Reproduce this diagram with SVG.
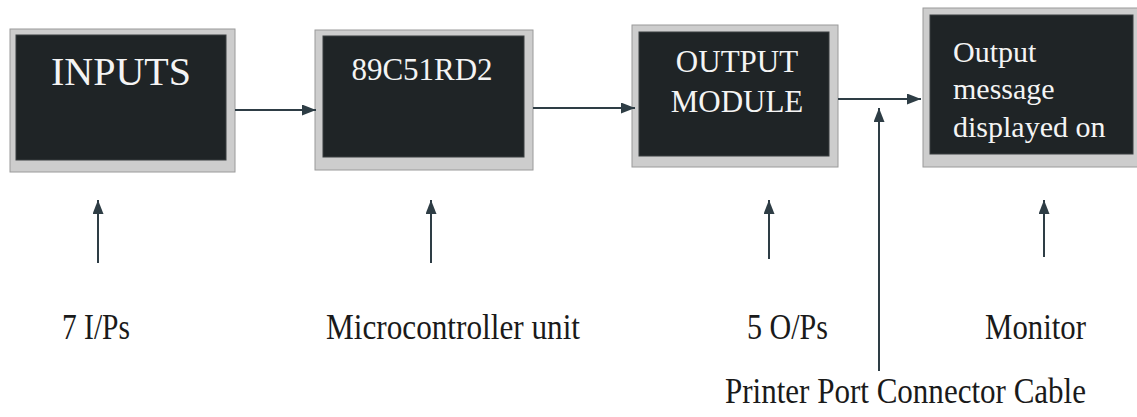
<svg xmlns="http://www.w3.org/2000/svg" width="1137" height="417" viewBox="0 0 1137 417">
<style>
.frame{fill:#cdcdcd;stroke:#9a9a9a;stroke-width:1}
.inner{fill:#1f2426;stroke:#3a3f41;stroke-width:1}
.bt{font-family:"Liberation Serif","Times New Roman",serif;fill:#f4f4f4}
.lbl{font-family:"Liberation Serif","Times New Roman",serif;fill:#1a1a1a;font-size:35px}
.conn{stroke:#2e3d45;stroke-width:2;fill:none;marker-end:url(#ah)}
</style>
<defs>
<marker id="ah" viewBox="0 0 14 11" refX="14" refY="5.5" markerWidth="14" markerHeight="11" markerUnits="userSpaceOnUse" orient="auto">
<path d="M0,0 L14,5.5 L0,11 Z" fill="#2e3d45"/>
</marker>
</defs>
<rect width="1137" height="417" fill="#ffffff"/>
<g id="node-inputs">
<rect class="frame" x="10" y="29" width="225" height="143"/>
<rect class="inner" x="16" y="35" width="210" height="125"/>
<text class="bt" x="121" y="85" font-size="40" text-anchor="middle">INPUTS</text>
</g>
<g id="node-mcu">
<rect class="frame" x="315" y="30" width="218" height="140"/>
<rect class="inner" x="323" y="36" width="201" height="121"/>
<text class="bt" x="422" y="80" font-size="31" text-anchor="middle">89C51RD2</text>
</g>
<g id="node-output">
<rect class="frame" x="632" y="25" width="206" height="142"/>
<rect class="inner" x="639" y="32" width="190" height="124"/>
<text class="bt" x="737" y="72" font-size="31" text-anchor="middle">OUTPUT</text>
<text class="bt" x="737" y="112" font-size="31" text-anchor="middle">MODULE</text>
</g>
<g id="node-display">
<rect class="frame" x="923" y="8" width="216" height="159"/>
<rect class="inner" x="930" y="15" width="203" height="139"/>
<text class="bt" x="953" y="62" font-size="30">Output</text>
<text class="bt" x="953" y="99" font-size="30">message</text>
<text class="bt" x="953" y="137" font-size="30">displayed on</text>
</g>
<g id="connectors">
<line class="conn" x1="235" y1="110" x2="316" y2="110"/>
<line class="conn" x1="533" y1="108" x2="635" y2="108"/>
<line class="conn" x1="838" y1="99" x2="921" y2="99"/>
<line class="conn" x1="879" y1="371" x2="879" y2="108"/>
<line class="conn" x1="98" y1="263" x2="98" y2="200"/>
<line class="conn" x1="431" y1="263" x2="431" y2="200"/>
<line class="conn" x1="769" y1="259" x2="769" y2="200"/>
<line class="conn" x1="1044" y1="257" x2="1044" y2="200"/>
</g>
<g id="labels">
<text class="lbl" x="62" y="339" textLength="68" lengthAdjust="spacingAndGlyphs">7 I/Ps</text>
<text class="lbl" x="326" y="339" textLength="254" lengthAdjust="spacingAndGlyphs">Microcontroller unit</text>
<text class="lbl" x="747" y="339" textLength="81" lengthAdjust="spacingAndGlyphs">5 O/Ps</text>
<text class="lbl" x="985" y="339" textLength="101" lengthAdjust="spacingAndGlyphs">Monitor</text>
<text class="lbl" x="725" y="403" textLength="361" lengthAdjust="spacingAndGlyphs">Printer Port Connector Cable</text>
</g>
</svg>
